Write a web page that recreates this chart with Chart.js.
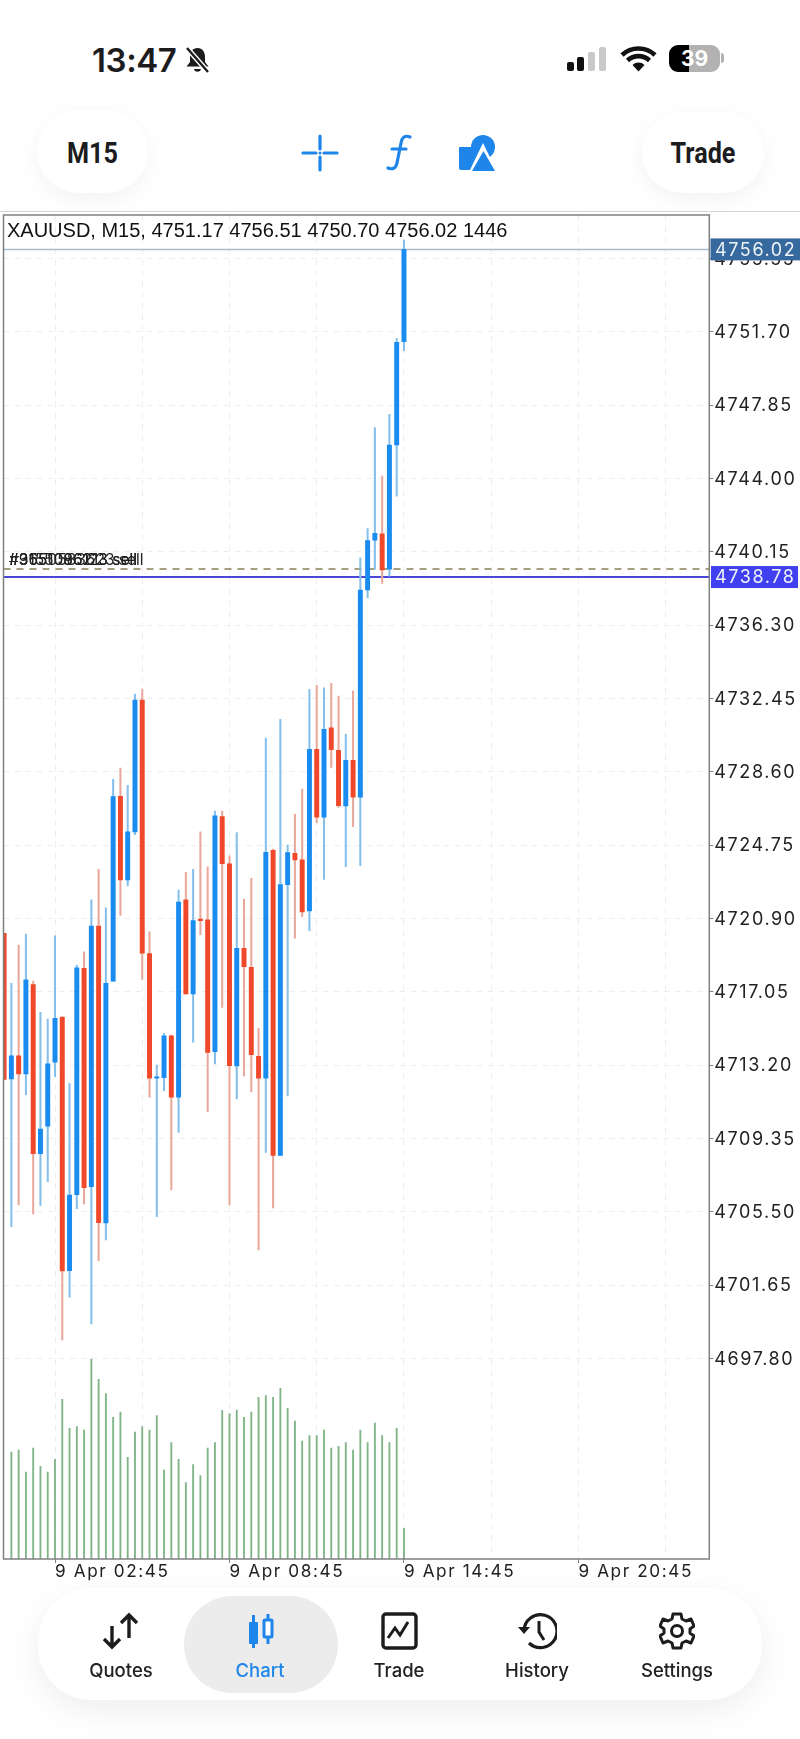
<!DOCTYPE html>
<html>
<head>
<meta charset="utf-8">
<title>XAUUSD M15</title>
<script src="https://cdn.jsdelivr.net/npm/chart.js@4/dist/chart.umd.js"></script>
<style>
html, body { margin: 0; padding: 0; background: #fff; }
body { position: relative; width: 800px; height: 1739px; overflow: hidden; font-family: Inter, "Noto Sans", sans-serif; color: #1c1c1e; }
.abs { position: absolute; }
#chartWrap { left: 0; top: 205px; width: 800px; height: 1400px; }
#time { left: 92px; top: 40px; font-size: 33px; font-weight: 600; letter-spacing: -0.4px; }
.pill { background: #fff; box-shadow: 0 6px 22px rgba(0,0,0,0.05); border-radius: 46px; }
.pillText { font-family: Roboto, sans-serif; font-weight: 700; font-size: 30px; transform: scaleX(0.84); transform-origin: center; text-align: center; }
#hairline { left: 0; top: 211px; width: 800px; height: 1px; background: #d4d4d4; }
#symbolLine { left: 7px; top: 219px; font-family: "Liberation Sans", Arial, sans-serif; font-size: 20px; white-space: nowrap; color: #111; }
#nav { left: 38px; top: 1588px; width: 724px; height: 112px; background: #fff; border-radius: 54px; box-shadow: 0 10px 34px rgba(0,0,0,0.07); }
#navActive { left: 184px; top: 1596px; width: 154px; height: 97px; background: #ececec; border-radius: 48px; }
.navLabel { top: 1659px; width: 120px; text-align: center; font-size: 18.5px; font-weight: 500; color: #222; }
.navIcon { top: 1612px; }
</style>
</head>
<body>
<div class="abs" id="time">13:47</div>
<svg class="abs" style="left:184px;top:46px" width="27" height="28" viewBox="0 0 27 28">
  <path d="M13.5 2c-5 0-7.5 4-7.5 9v5l-3.5 4.5h22L21 16v-5c0-5-2.500-9-7.500-9z" fill="#1c1c1e"/>
  <path d="M10 23a3.600 3.600 0 0 0 7 0z" fill="#1c1c1e"/>
  <path d="M3 2l21 24" stroke="#fff" stroke-width="5"/>
  <path d="M3 2l21 24" stroke="#1c1c1e" stroke-width="2.400"/>
</svg>
<svg class="abs" style="left:566px;top:46px" width="42" height="26" viewBox="0 0 42 26">
  <rect x="1" y="16" width="7" height="9" rx="2" fill="#111"/>
  <rect x="11" y="11" width="7" height="14" rx="2" fill="#111"/>
  <rect x="22" y="6" width="7" height="19" rx="2" fill="#c9c9c9"/>
  <rect x="33" y="1" width="7" height="24" rx="2" fill="#c9c9c9"/>
</svg>
<svg class="abs" style="left:620px;top:46px" width="37" height="26" viewBox="0 0 37 26">
  <path d="M2 9a24 24 0 0 1 33 0M7.500 14.500a16 16 0 0 1 22 0" fill="none" stroke="#111" stroke-width="4.600"/>
  <path d="M12.500 19a8.500 8.500 0 0 1 12 0L18.500 25.500z" fill="#111"/>
</svg>
<div class="abs" style="left:669px;top:45px;width:51px;height:27px;border-radius:9px;background:linear-gradient(90deg,#000 0,#000 39%,#b2b2b2 39%,#b2b2b2 100%);color:#fff;font-size:21px;font-weight:700;text-align:center;line-height:27px">39</div>
<div class="abs" style="left:721px;top:53px;width:3px;height:10px;border-radius:0 3px 3px 0;background:#b2b2b2"></div>

<div class="abs pill" style="left:37px;top:110px;width:111px;height:83px"></div>
<div class="abs pillText" style="left:37px;top:135px;width:111px">M15</div>
<div class="abs pill" style="left:642px;top:112px;width:122px;height:81px"></div>
<div class="abs pillText" style="left:642px;top:135px;width:122px">Trade</div>

<svg class="abs" style="left:301px;top:134px" width="38" height="38" viewBox="0 0 38 38">
  <path d="M19 2v13M19 23v13M2 19h13M23 19h13" stroke="#1e86ea" stroke-width="3.200" stroke-linecap="round"/>
  <circle cx="19" cy="19" r="1.500" fill="#1e86ea"/>
</svg>
<svg class="abs" style="left:385px;top:134px" width="28" height="38" viewBox="0 0 28 38">
  <path d="M25 3c-5-2-8 0-9 6l-4 20c-1 5-4 7-9 5M7 15h14" fill="none" stroke="#1e86ea" stroke-width="3.200" stroke-linecap="round"/>
</svg>
<svg class="abs" style="left:458px;top:134px" width="38" height="38" viewBox="0 0 38 38">
  <circle cx="25" cy="13" r="12" fill="#1e86ea"/>
  <path d="M1 13h13l7 12-5 11H3a2 2 0 0 1-2-2z" fill="#1e86ea"/>
  <path d="M25 9L40 40H10z" fill="#fff"/>
  <path d="M25.500 17L37 37H14z" fill="#1e86ea"/>
</svg>
<div class="abs" id="hairline"></div>

<div class="abs" id="chartWrap"><canvas id="chartCanvas" width="800" height="1400"></canvas></div>
<div class="abs" id="symbolLine">XAUUSD, M15, 4751.17 4756.51 4750.70 4756.02 1446</div>

<div class="abs" id="nav"></div>
<div class="abs" id="navActive"></div>
<svg class="abs navIcon" style="left:102px" width="38" height="38" viewBox="0 0 38 38">
  <path d="M10 14v21M2 27l8 8 8-8M27 26V3M19 11l8-8 8 8" fill="none" stroke="#1c1c1e" stroke-width="3.400"/>
</svg>
<svg class="abs navIcon" style="left:247px" width="28" height="38" viewBox="0 0 28 38">
  <rect x="2" y="10" width="9" height="22" rx="1" fill="#1e86ea"/>
  <path d="M6.500 3v33M21 2v30" stroke="#1e86ea" stroke-width="3"/>
  <rect x="17" y="8" width="8" height="17" rx="1" fill="#fff" stroke="#1e86ea" stroke-width="3"/>
</svg>
<svg class="abs navIcon" style="left:381px" width="37" height="38" viewBox="0 0 37 38">
  <rect x="2" y="2" width="33" height="34" rx="3" fill="none" stroke="#1c1c1e" stroke-width="3.400"/>
  <path d="M7 26l7-10 5 7 8-13" fill="none" stroke="#1c1c1e" stroke-width="3"/>
</svg>
<svg class="abs navIcon" style="left:517px" width="40" height="38" viewBox="0 0 40 38">
  <path d="M7 19a16.500 16.500 0 1 1 5 12" fill="none" stroke="#1c1c1e" stroke-width="3.200"/>
  <path d="M1 15l6 7 6-7z" fill="#1c1c1e"/>
  <path d="M22 9v11l5 8" fill="none" stroke="#1c1c1e" stroke-width="3"/>
</svg>
<svg class="abs navIcon" style="left:659px" width="36" height="38" viewBox="0 0 36 38">
  <path d="M14 2h8l1 5 4 2 5-2 3 7-4 3v4l4 3-3 7-5-2-4 2-1 5h-8l-1-5-4-2-5 2-3-7 4-3v-4L1 14l3-7 5 2 4-2z" fill="none" stroke="#1c1c1e" stroke-width="3" stroke-linejoin="round"/>
  <circle cx="18" cy="19" r="5.500" fill="none" stroke="#1c1c1e" stroke-width="3"/>
</svg>
<div class="abs navLabel" style="left:61px">Quotes</div>
<div class="abs navLabel" style="left:200px;color:#1e86ea">Chart</div>
<div class="abs navLabel" style="left:339px">Trade</div>
<div class="abs navLabel" style="left:477px">History</div>
<div class="abs navLabel" style="left:617px">Settings</div>

<script>
// M15 bars, first bar on screen is index 0
const opens = [4720.12, 4712.47, 4713.69, 4712.73, 4717.42, 4708.55, 4709.99, 4713.35, 4715.71, 4702.41,
    4706.40, 4718.28, 4706.82, 4720.50, 4704.91, 4717.61, 4727.31, 4722.92, 4725.44, 4732.36,
    4719.05, 4712.51, 4712.54, 4714.73, 4711.52, 4721.87, 4716.93, 4720.84, 4720.82, 4713.90,
    4726.24, 4723.76, 4713.15, 4719.33, 4718.33, 4713.66, 4712.51, 4724.47, 4708.46, 4722.67,
    4724.32, 4723.97, 4721.29, 4729.78, 4726.22, 4730.91, 4729.72, 4726.80, 4729.20, 4727.27,
    4738.15, 4740.76, 4741.09, 4739.23, 4745.75, 4751.17];
const highs = [4720.12, 4717.49, 4719.50, 4720.08, 4717.61, 4715.97, 4715.62, 4719.98, 4715.76, 4712.24,
    4718.45, 4719.14, 4721.87, 4723.48, 4721.46, 4728.20, 4728.79, 4727.89, 4732.68, 4732.94,
    4720.20, 4713.20, 4714.87, 4714.78, 4722.39, 4723.32, 4723.48, 4725.44, 4723.61, 4726.54,
    4726.54, 4724.19, 4725.40, 4721.92, 4723.00, 4715.13, 4730.37, 4724.54, 4731.35, 4724.75,
    4726.36, 4727.69, 4732.93, 4733.14, 4733.01, 4733.24, 4732.57, 4730.56, 4732.85, 4739.83,
    4741.36, 4746.66, 4744.12, 4747.36, 4751.35, 4756.51];
const lows = [4712.45, 4704.72, 4705.86, 4711.63, 4705.38, 4705.82, 4707.08, 4712.59, 4698.77, 4701.01,
    4705.66, 4705.91, 4699.61, 4702.93, 4704.02, 4717.61, 4721.05, 4722.60, 4725.29, 4717.70,
    4711.51, 4705.24, 4711.86, 4706.64, 4709.67, 4716.93, 4714.40, 4720.04, 4710.75, 4713.26,
    4716.23, 4705.86, 4711.42, 4712.63, 4711.79, 4703.49, 4708.62, 4705.70, 4708.46, 4711.58,
    4719.86, 4720.99, 4720.25, 4725.92, 4722.95, 4728.83, 4726.73, 4723.61, 4725.71, 4723.67,
    4737.72, 4739.23, 4738.49, 4738.87, 4743.07, 4750.70];
const closes = [4712.45, 4713.69, 4712.73, 4717.67, 4708.55, 4709.84, 4713.27, 4715.66, 4702.39, 4706.38,
    4718.31, 4706.76, 4720.50, 4704.93, 4717.49, 4727.29, 4722.92, 4725.44, 4732.36, 4719.07,
    4712.51, 4712.56, 4714.73, 4711.52, 4721.76, 4716.93, 4720.78, 4720.78, 4713.87, 4726.28,
    4723.77, 4713.17, 4719.33, 4718.36, 4713.75, 4712.51, 4724.37, 4708.46, 4722.67, 4724.35,
    4723.97, 4721.24, 4729.78, 4726.22, 4730.83, 4729.76, 4726.82, 4729.20, 4727.27, 4738.14,
    4740.73, 4741.11, 4739.19, 4745.75, 4751.14, 4756.02];
const volumes = [null, 5046, 5140, 4103, 5235, 4370, 4103, 4700, 7530, 6162,
    6241, 6084, 9432, 8473, 7797, 6681, 6933, 4795, 5989, 6241,
    6084, 6760, 4197, 5486, 4700, 3600, 4449, 3930, 5235, 5486,
    7011, 6854, 7027, 6681, 6933, 7624, 7703, 7624, 8049, 7105,
    6508, 5565, 5816, 5816, 6084, 5235, 5313, 5486, 5140, 6084,
    5486, 6414, 5816, 5486, 6162, 1446];

const priceTicks = [4755.55, 4751.70, 4747.85, 4744.00, 4740.15, 4736.30, 4732.45, 4728.60,
    4724.75, 4720.90, 4717.05, 4713.20, 4709.35, 4705.50, 4701.65, 4697.80];
const gridBars = [7, 19, 31, 43, 55, 67, 79, 91];
const timeBars = [7, 31, 55, 79];
const timeLabels = ['9 Apr 02:45', '9 Apr 08:45', '9 Apr 14:45', '9 Apr 20:45'];

const lastPrice = 4756.02;
const linePrice = 4738.82;
const lineLabel = '4738.78';
const orderPrice = 4739.24;
const orderLabels = ['#3155096123 sell', '#9650583623 sell', '#3551086213 sell'];

const X_MIN = -0.084, X_MAX = 97;
const PRICE_MIN = 4687.27, PRICE_MAX = 4757.826;
const VOLUME_MAX = 63370;

const BLUE = '#1a8cf0', RED = '#f0482a';
const BLUE_WICK = '#85bfea', RED_WICK = '#e9a89c';
const isUp = opens.map((o, i) => closes[i] >= o);

// left + top of the frame and the price tags, the axes only give us the bottom/right
const framePlugin = {
    id: 'frame',
    beforeDraw(chart) {
        chart.ctx.letterSpacing = '1.6px';
    },
    afterDraw(chart) {
        const { ctx, chartArea, scales } = chart;
        ctx.save();
        ctx.strokeStyle = '#808080';
        ctx.lineWidth = 1.5;
        ctx.strokeRect(chartArea.left, chartArea.top, chartArea.right - chartArea.left, chartArea.bottom - chartArea.top);

        const tag = (price, text, bg, left, right, h) => {
            const y = scales.y.getPixelForValue(price);
            ctx.fillStyle = bg;
            ctx.fillRect(left, y - h / 2, right - left, h);
            ctx.fillStyle = '#eef3f8';
            ctx.font = '18px Inter, sans-serif';
            ctx.textAlign = 'left';
            ctx.textBaseline = 'middle';
            ctx.fillText(text, 715, y + 1);
        };
        tag(lastPrice, lastPrice.toFixed(2), '#36699e', 710.5, 800, 22);
        tag(linePrice, lineLabel, '#4040f0', 711, 798, 22);

        // several order labels printed on the same spot, as in the app
        ctx.letterSpacing = '0px';
        ctx.fillStyle = '#222';
        ctx.font = '15.5px Inter, sans-serif';
        ctx.textAlign = 'left';
        ctx.textBaseline = 'bottom';
        const orderY = scales.y.getPixelForValue(orderPrice) - 1;
        orderLabels.forEach((text) => ctx.fillText(text, 9, orderY));
        ctx.restore();
    }
};

const barX = opens.map((_, i) => i);

new Chart(document.getElementById('chartCanvas'), {
    type: 'bar',
    data: {
        datasets: [
            {
                label: 'Last',
                type: 'line',
                yAxisID: 'y',
                data: [{ x: X_MIN, y: lastPrice }, { x: X_MAX, y: lastPrice }],
                borderColor: '#a9bccd',
                borderWidth: 1.5,
                pointRadius: 0,
                order: 6
            },
            {
                label: 'Order',
                type: 'line',
                yAxisID: 'y',
                data: [{ x: X_MIN, y: orderPrice }, { x: X_MAX, y: orderPrice }],
                borderColor: '#8a7d55',
                borderWidth: 1.5,
                borderDash: [7, 6],
                pointRadius: 0,
                order: 5
            },
            {
                label: 'Line',
                type: 'line',
                yAxisID: 'y',
                data: [{ x: X_MIN, y: linePrice }, { x: X_MAX, y: linePrice }],
                borderColor: '#4a46d8',
                borderWidth: 2,
                pointRadius: 0,
                order: 4
            },
            {
                label: 'Volume',
                yAxisID: 'yVol',
                data: barX.map((i) => ({ x: i, y: volumes[i] })),
                backgroundColor: '#7fb487',
                barThickness: 1.2,
                grouped: false,
                order: 3
            },
            {
                label: 'Wick',
                yAxisID: 'y',
                data: barX.map((i) => ({ x: i, y: [lows[i], highs[i]] })),
                backgroundColor: barX.map((i) => (isUp[i] ? BLUE_WICK : RED_WICK)),
                barThickness: 1.4,
                grouped: false,
                order: 2
            },
            {
                label: 'Body',
                yAxisID: 'y',
                data: barX.map((i) => ({ x: i, y: [opens[i], closes[i]] })),
                backgroundColor: barX.map((i) => (isUp[i] ? BLUE : RED)),
                barThickness: 4.3,
                minBarLength: 1.5,
                grouped: false,
                order: 1
            }
        ]
    },
    options: {
        responsive: false,
        animation: false,
        layout: { padding: { left: 3.5, top: 10, right: 0, bottom: 0 } },
        plugins: { legend: { display: false }, tooltip: { enabled: false }, title: { display: false } },
        scales: {
            x: {
                type: 'linear',
                offset: false,
                min: X_MIN,
                max: X_MAX,
                border: { display: false, dash: [6, 5] },
                grid: {
                    offset: false,
                    color: '#efefef',
                    drawTicks: true,
                    tickLength: 4,
                    tickBorderDash: [],
                    tickColor: (c) => (c.tick && timeBars.includes(c.tick.value) ? '#808080' : 'rgba(0,0,0,0)')
                },
                afterBuildTicks: (scale) => { scale.ticks = gridBars.map((v) => ({ value: v })); },
                afterFit: (scale) => {
                    scale.height = 46;
                    scale.paddingLeft = 0;
                    scale.paddingRight = 0;
                },
                ticks: {
                    autoSkip: false,
                    maxRotation: 0,
                    minRotation: 0,
                    align: 'start',
                    padding: -1,
                    color: '#222',
                    font: { family: 'Inter, sans-serif', size: 17.2 },
                    callback: (v) => {
                        const k = timeBars.indexOf(v);
                        return k >= 0 ? timeLabels[k] : '';
                    }
                }
            },
            y: {
                position: 'right',
                min: PRICE_MIN,
                max: PRICE_MAX,
                border: { display: false, dash: [6, 5] },
                grid: { color: '#efefef', tickLength: 4, tickBorderDash: [], tickColor: '#808080' },
                afterBuildTicks: (scale) => { scale.ticks = priceTicks.map((v) => ({ value: v })); },
                afterFit: (scale) => {
                    scale.width = 90.7;
                    scale.paddingTop = 0;
                    scale.paddingBottom = 0;
                },
                ticks: {
                    autoSkip: false,
                    crossAlign: 'near',
                    padding: 1,
                    labelOffset: 1,
                    color: '#222',
                    font: { family: 'Inter, sans-serif', size: 18 },
                    callback: (v) => v.toFixed(2)
                }
            },
            yVol: {
                display: false,
                min: 0,
                max: VOLUME_MAX
            }
        }
    },
    plugins: [framePlugin]
});
</script>
</body>
</html>
